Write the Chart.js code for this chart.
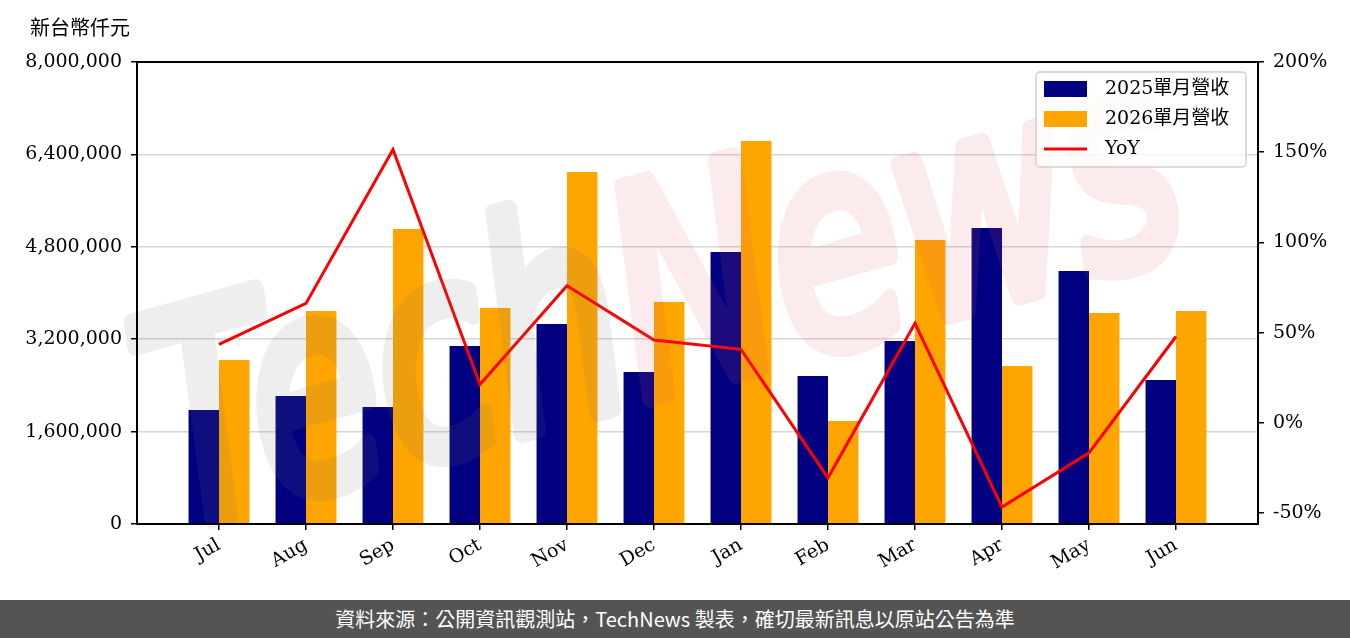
<!DOCTYPE html>
<html>
<head>
<meta charset="utf-8">
<script src="https://cdn.jsdelivr.net/npm/chart.js@4.4.1/dist/chart.umd.min.js"></script>
<style>
  body { margin: 0; background: #fff; width: 1350px; height: 638px; overflow: hidden; }
  #wrap { position: relative; width: 1350px; height: 600px; }
  #footer {
    height: 38px; background: #545454; color: #fff; text-align: center;
    font: 20px 'Noto Sans CJK TC', 'Noto Sans', sans-serif; line-height: 38px;
  }
</style>
</head>
<body>
<div id="wrap"><canvas id="revChart"></canvas></div>
<div id="footer">資料來源：公開資訊觀測站，TechNews 製表，確切最新訊息以原站公告為準</div>
<script>
// données
const months = ['Jul', 'Aug', 'Sep', 'Oct', 'Nov', 'Dec', 'Jan', 'Feb', 'Mar', 'Apr', 'May', 'Jun'];
const rev2025 = [1974000, 2216000, 2026000, 3082000, 3463000, 2632000, 4710000, 2563000, 3169000, 5126000, 4381000, 2494000];
const rev2026 = [2840000, 3688000, 5108000, 3740000, 6095000, 3844000, 6632000, 1784000, 4918000, 2736000, 3654000, 3688000];
const yoy = [43.5, 66.2, 151.5, 21.3, 76.0, 46.0, 40.8, -30.4, 55.2, -46.6, -16.6, 47.9];
const leftTicks = [0, 1600000, 3200000, 4800000, 6400000, 8000000];
const rightTicks = [-50, 0, 50, 100, 150, 200];

const serif = "'DejaVu Serif', serif";
const cjk = "'DejaVu Serif', 'Noto Sans CJK TC', serif";

const toXY = arr => arr.map((v, i) => ({ x: i, y: v }));

// titre de l'axe gauche, en haut
const axisTitle = {
  id: 'axisTitle',
  afterDraw(chart) {
    const ctx = chart.ctx;
    ctx.save();
    ctx.font = "20px 'Noto Sans CJK TC', sans-serif";
    ctx.fillStyle = '#000';
    ctx.textBaseline = 'middle';
    ctx.fillText('新台幣仟元', 30, 27);
    ctx.restore();
  }
};

// filigrane TechNews (dessiné hors écran puis posé en transparence)
const watermark = {
  id: 'watermark',
  afterDatasetsDraw(chart) {
    const ctx = chart.ctx;
    const off = document.createElement('canvas');
    off.width = chart.width;
    off.height = chart.height;
    const o = off.getContext('2d');
    o.translate(175, 530);
    o.rotate(-0.27);
    o.font = "italic 290px 'DejaVu Sans', sans-serif";
    const w1 = o.measureText('Tech').width;
    const w2 = o.measureText('News').width;
    o.scale(1060 / (w1 + w2), 1);
    o.lineJoin = 'round';
    o.lineCap = 'round';
    o.lineWidth = 18;
    o.fillStyle = o.strokeStyle = '#707070';
    o.fillText('Tech', 0, 0);
    o.strokeText('Tech', 0, 0);
    o.fillStyle = o.strokeStyle = '#d85a6c';
    o.fillText('News', w1, 0);
    o.strokeText('News', w1, 0);
    ctx.save();
    ctx.globalAlpha = 0.12;
    ctx.drawImage(off, 0, 0);
    ctx.restore();
  }
};

// cadre autour de la zone du graphique
const frame = {
  id: 'frame',
  afterDatasetsDraw(chart) {
    const { ctx, chartArea: a } = chart;
    ctx.save();
    ctx.strokeStyle = '#000';
    ctx.lineWidth = 2;
    ctx.strokeRect(a.left, a.top, a.right - a.left, a.bottom - a.top);
    ctx.restore();
  }
};

// légende dessinée à la main (coin supérieur droit)
const legendBox = {
  id: 'legendBox',
  afterDraw(chart) {
    const { ctx, chartArea: a } = chart;
    const w = 210, h = 95;
    const x0 = a.right - 12 - w, y0 = a.top + 10;
    ctx.save();
    ctx.beginPath();
    ctx.roundRect(x0, y0, w, h, 4);
    ctx.fillStyle = 'rgba(255,255,255,0.8)';
    ctx.fill();
    ctx.strokeStyle = '#d0d0d0';
    ctx.lineWidth = 1.5;
    ctx.stroke();
    ctx.font = '19px ' + cjk;
    ctx.textBaseline = 'middle';
    chart.data.datasets.forEach((ds, i) => {
      const cy = y0 + 17 + i * 30;
      if (ds.type === 'line') {
        ctx.strokeStyle = ds.borderColor;
        ctx.lineWidth = 3;
        ctx.beginPath();
        ctx.moveTo(x0 + 8, cy);
        ctx.lineTo(x0 + 51, cy);
        ctx.stroke();
      } else {
        ctx.fillStyle = ds.backgroundColor;
        ctx.fillRect(x0 + 8, cy - 8, 43, 16);
      }
      ctx.fillStyle = '#000';
      ctx.fillText(ds.label, x0 + 69, cy);
    });
    ctx.restore();
  }
};

new Chart(document.getElementById('revChart'), {
  data: {
    datasets: [{
      type: 'bar',
      label: '2025單月營收',
      data: toXY(rev2025),
      backgroundColor: '#000080',
      yAxisID: 'y',
      order: 1
    }, {
      type: 'bar',
      label: '2026單月營收',
      data: toXY(rev2026),
      backgroundColor: '#ffa500',
      yAxisID: 'y',
      order: 1
    }, {
      type: 'line',
      label: 'YoY',
      data: toXY(yoy),
      borderColor: '#ff0000',
      borderWidth: 3,
      pointRadius: 0,
      tension: 0,
      yAxisID: 'y1',
      order: 0
    }]
  },
  options: {
    responsive: true,
    maintainAspectRatio: false,
    animation: false,
    datasets: { bar: { categoryPercentage: 0.7, barPercentage: 1.0 } },
    layout: { padding: { top: 62, left: 0, right: 0, bottom: 0 } },
    plugins: { legend: { display: false }, tooltip: { enabled: false } },
    scales: {
      x: {
        type: 'linear',
        offset: false,
        min: -0.9425,
        max: 11.9425,
        afterBuildTicks: s => { s.ticks = months.map((m, i) => ({ value: i })); },
        afterFit: s => { s.height = 76; },
        border: { display: false },
        grid: { offset: false, drawOnChartArea: false, tickColor: '#000', tickLength: 6, lineWidth: 1.5 },
        ticks: {
          callback: v => months[v],
          maxRotation: 30, minRotation: 30,
          color: '#000', font: { family: serif, size: 19 }, padding: 4
        }
      },
      y: {
        position: 'left',
        min: 0,
        max: 8000000,
        afterBuildTicks: s => { s.ticks = leftTicks.map(v => ({ value: v })); },
        afterFit: s => { s.width = 137; },
        border: { display: false },
        grid: { color: '#d6d6d6', lineWidth: 1.5, tickColor: '#000', tickLength: 6 },
        ticks: {
          callback: v => v.toLocaleString('en-US'),
          color: '#000', font: { family: serif, size: 19 }, padding: 9
        }
      },
      y1: {
        position: 'right',
        min: -56,
        max: 200,
        afterBuildTicks: s => { s.ticks = rightTicks.map(v => ({ value: v })); },
        afterFit: s => { s.width = 92; },
        border: { display: false },
        grid: { drawOnChartArea: false, tickColor: '#000', tickLength: 6, lineWidth: 1.5 },
        ticks: {
          callback: v => v + '%',
          color: '#000', font: { family: serif, size: 19 }, padding: 9
        }
      }
    }
  },
  plugins: [axisTitle, watermark, frame, legendBox]
});
</script>
</body>
</html>
